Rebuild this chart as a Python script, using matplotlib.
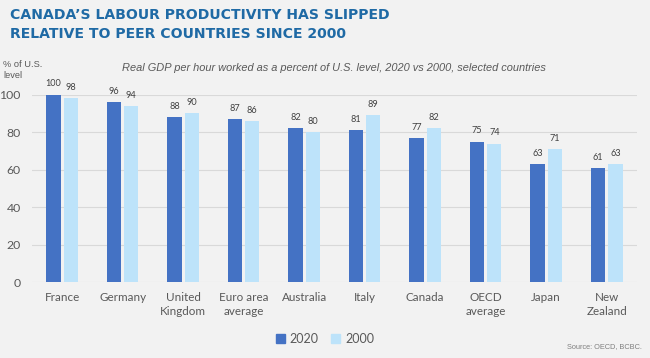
import numpy as np
import matplotlib.pyplot as plt
from matplotlib.patches import Patch

countries = ["France", "Germany", "United\nKingdom", "Euro area\naverage", "Australia",
             "Italy", "Canada", "OECD\naverage", "Japan", "New\nZealand"]
y2020 = [100, 96, 88, 87, 82, 81, 77, 75, 63, 61]
y2000 = [98, 94, 90, 86, 80, 89, 82, 74, 71, 63]

c2020 = "#4472c4"
c2000 = "#bde3fa"
bg = "#f2f2f2"
grey = "#595959"

fig = plt.figure(figsize=(6.5, 3.58), dpi=100, facecolor=bg)
ax = fig.add_axes([0.049, 0.211, 0.931, 0.5245], facecolor=bg)

x = np.arange(len(countries))
w = 0.235
b1 = ax.bar(x - 0.143, y2020, w, color=c2020, zorder=3)
b2 = ax.bar(x + 0.143, y2000, w, color=c2000, zorder=3)

# value labels above bars
for bars, vals in ((b1, y2020), (b2, y2000)):
    for r, v in zip(bars, vals):
        ax.text(r.get_x() + r.get_width() / 2, v + 3.3, str(v), ha="center", va="bottom",
                fontsize=6.6, color="#404040", family="Lato", clip_on=False)

ax.set_xlim(-0.5, len(countries) - 0.5)
ax.set_ylim(0, 100)
ax.set_yticks([0, 20, 40, 60, 80, 100])
ax.yaxis.grid(True, color="#d9d9d9", linewidth=0.8, zorder=0)
for s in ax.spines.values():
    s.set_visible(False)
ax.tick_params(axis="y", length=0, pad=8, labelsize=8.8, labelcolor=grey)
ax.tick_params(axis="x", length=0, pad=7, labelsize=8.4, labelcolor=grey)
ax.set_xticks(x)
ax.set_xticklabels(countries, family="Lato", linespacing=1.35)
for lab in ax.get_yticklabels():
    lab.set_family("Lato")

fig.text(0.016, 0.978, "CANADA\u2019S LABOUR PRODUCTIVITY HAS SLIPPED\nRELATIVE TO PEER COUNTRIES SINCE 2000",
         ha="left", va="top", fontsize=10.1, fontweight="bold", color="#1f6aa5",
         family="DejaVu Sans", linespacing=1.5)

fig.text(0.005, 0.805, "% of U.S.\nlevel", ha="left", va="center", fontsize=6.7,
         color=grey, family="Liberation Sans", linespacing=1.25)
fig.text(0.188, 0.81, "Real GDP per hour worked as a percent of U.S. level, 2020 vs 2000, selected countries",
         ha="left", va="center", fontsize=7.9, style="italic", color=grey, family="Liberation Sans")

handles = [Patch(color=c2020, label="2020"), Patch(color=c2000, label="2000")]
leg = fig.legend(handles=handles, loc="center", bbox_to_anchor=(0.5, 0.053), ncol=2,
                 frameon=False, handlelength=0.7, handleheight=0.7, handletextpad=0.4,
                 columnspacing=1.0, prop={"family": "Lato", "size": 9})
for t in leg.get_texts():
    t.set_color(grey)

fig.text(0.988, 0.022, "Source: OECD, BCBC.", ha="right", va="bottom", fontsize=5.3,
         color="#7f7f7f", family="Liberation Sans")

fig.savefig("out.png", dpi=100, facecolor=bg)
